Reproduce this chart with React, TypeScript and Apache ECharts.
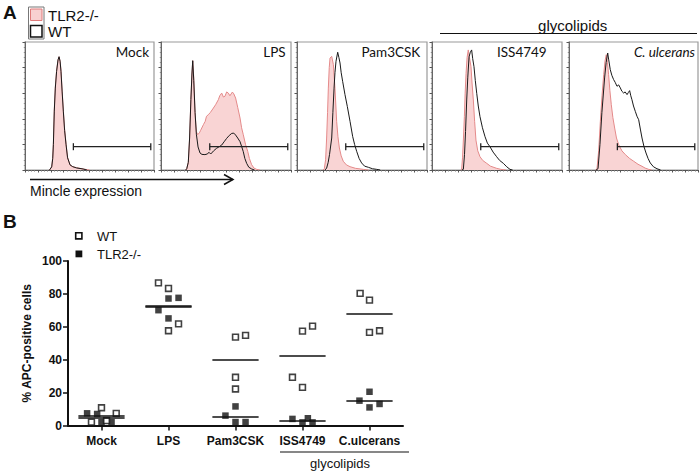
import React, { useEffect, useRef } from "react";
import * as echarts from "echarts";

// ---------- Panel A: flow histograms (x: % of panel width, y: % of panel height) ----------
const panelNames = ["Mock", "LPS", "Pam3CSK", "ISS4749", "C. ulcerans"];

const tlr2Hist: number[][][] = [
  [[19,0],[20.7,2.6],[21.5,10],[22,20.8],[22.7,47],[23.5,65],[24.5,78],[25.6,86],[26.4,88.5],[27.2,85],[27.9,78],[28.8,62],[29.7,47],[30.7,32],[31.8,20.8],[33,10],[34.9,4],[37,2.6],[40,1.8],[45,0.8],[50,0]],
  [[19,0],[19.8,1],[21,6],[22,25],[23,55],[23.8,75],[24.4,85.4],[25.2,72],[26.2,45],[27.2,30],[28.2,27.6],[29.5,29],[30.5,31],[32.6,35.4],[34,38],[35,42],[36.4,43.2],[38,45],[40.3,48.4],[42,51],[44.1,54.9],[45.2,58],[46.7,60.1],[48,57],[49.2,57.6],[50.5,61],[51.8,60.1],[53,58],[54.9,60.9],[56,59.5],[57.4,56.2],[59,49],[60.8,40.6],[62,33],[63.3,27.6],[65,20],[66.7,14.6],[68,9],[69.7,4.2],[71.5,1.5],[73.6,0.5],[76,0]],
  [[20,0],[21,1],[22,8],[22.8,25],[23.5,45],[24.1,64],[24.8,80],[25.4,87.5],[26.7,88.8],[28,82.3],[29.2,64],[30.5,38],[31.5,26],[32.6,17.2],[34,11],[35.6,6.8],[38,4],[40.8,2.6],[45,1.3],[51,0.5],[55,0]],
  [[22,0],[22.8,0.5],[23.5,10],[24.2,25],[24.9,41.7],[25.5,60],[26.2,75.5],[27,88],[27.9,93.8],[28.8,88],[30,80.7],[30.8,68],[31.8,54.7],[32.8,38],[33.8,23.4],[35.2,15],[36.9,10.4],[39,7.5],[42.1,5.2],[45,3],[49.7,1.3],[53,0.5],[57,0]],
  [[20.5,0],[21.7,1],[23,15],[24.3,38],[25.6,58],[26.9,74.5],[27.9,85],[28.9,90.1],[29.8,84],[30.7,74.5],[31.7,62],[32.8,51],[34,41],[35.4,32.8],[36.8,25],[38.5,19.8],[41,15],[43.7,12],[47,9],[50.2,6.8],[53.5,4.5],[56.6,2.9],[59,1.5],[61.8,0.5],[64,0]],
];

const wtHist: number[][][] = [
  [[19,0],[20.7,2.4],[21.5,9],[22,20],[22.7,46],[23.5,64],[24.5,77],[25.6,86],[26.4,88.5],[27.2,85],[27.9,77],[28.8,61],[29.7,46],[30.7,31],[31.8,20],[33,9.5],[34.9,4],[37,2.6],[40,1.6],[45,0.8],[48,0]],
  [[19,0],[19.8,1],[21,6],[22,25],[23,55],[23.8,75],[24.4,85.4],[25.2,70],[26.2,45],[27.2,28],[28.5,18],[30,13.3],[31.5,12.2],[33.8,12],[35.5,12.5],[37,13.8],[38.2,12.5],[39,13.3],[40.5,15],[42.8,17],[44.5,18],[46.7,19.5],[48.5,22],[50.5,24.7],[52.5,27],[54.4,28.6],[56,28.8],[57.4,27.3],[59,25],[60.8,22.1],[62,18.5],[63.3,14.3],[64.5,9],[65.9,5.2],[67.5,2.2],[69.7,0.8],[72,0]],
  [[21.5,0],[22.8,1.5],[24,6],[25,12],[26.7,25],[27.6,45],[28.5,64],[29.2,76],[30,84.9],[31.3,92],[32.2,88],[33.1,83.6],[34,76],[35.1,69.3],[36.9,58.9],[38.7,49.7],[40.8,38],[42.8,26.3],[44.3,20],[45.9,14.6],[47.8,9],[49.7,5.5],[52,3],[54.9,2.1],[58,1],[61.3,0.5],[64,0]],
  [[23,0],[24.1,0.5],[25,12],[25.8,30],[26.7,54.7],[27.5,72],[28.5,88.5],[29.5,92],[30.5,93.8],[31.3,87],[32.3,80.7],[33.3,70],[34.4,59.9],[35.6,50],[36.9,41.7],[38.8,33],[40.8,26],[42.6,21],[44.6,18.2],[47,14],[49.7,10.4],[52,7.5],[54.9,5.2],[57.5,2.5],[60,0.5],[62,0]],
  [[21,0],[22.5,1],[24,20],[25.5,45],[27.6,71.9],[28.8,84],[30,91.4],[30.8,86],[32,78.4],[33.2,74],[34.6,70.6],[35.8,68.5],[37.2,65.4],[38.5,66.5],[39.8,64.1],[41,61.5],[42.4,60.1],[43.5,61],[45,58.9],[46,60.5],[47,62],[47.9,58],[48.8,54.9],[50,50],[51.4,45.8],[52.7,42],[54,39.3],[55.3,32],[56.6,25],[58.2,18],[59.7,13.3],[61.3,9],[63,5.5],[65.5,2.5],[68.2,1],[71,0]],
];

const gateRange = [37.5, 97.5];
const gateLevel = 18.2;

// ---------- Panel B: % APC-positive cells ----------
const categories = ["Mock", "LPS", "Pam3CSK", "ISS4749", "C.ulcerans"];
const wtValues = [
  [10.8, 2, 3, 7.4],
  [86.7, 83.3, 61.8, 57.6],
  [53.7, 54.8, 29.3, 22.2],
  [57.4, 60.4, 29.3, 23.2],
  [80.3, 76.2, 56.6, 57.6],
];
const wtJitter = [
  [0, -0.15, 0.075, 0.22],
  [-0.15, 0, 0.15, 0],
  [0, 0.15, 0, 0],
  [0, 0.15, -0.15, 0],
  [-0.14, 0, 0, 0.15],
];
const tlr2Values = [
  [7.4, 7, 2, 2],
  [77.2, 77.6, 70.1, 65.1],
  [11.6, 6, 2.1, 2.1],
  [4, 1.9, 4.4, 1.9],
  [20.5, 15.1, 13.1, 11],
];
const tlr2Jitter = [
  [-0.215, -0.065, 0, 0.15],
  [0, 0.15, -0.15, 0],
  [0, -0.15, 0, 0.15],
  [-0.15, 0, 0.08, 0.15],
  [0, -0.15, 0.15, 0],
];
const yTicks = [0, 20, 40, 60, 80, 100];

// ---------- layout ----------
const panelLeft = [25, 161, 297, 432, 569];
const panelWidth = [129, 130, 130, 130, 129];
const panelTop = 42;
const panelHeight = 128;
const labelRight = [149, 285.7, 420.3, 546.7, 695];

const SANS = "Liberation Sans, Arial, sans-serif";
const CAL = "Lato, Carlito, sans-serif";

const mean = (a: number[]) => a.reduce((s, v) => s + v, 0) / a.length;
const halfLine = 0.345;

export default function App() {
  const ref = useRef<HTMLDivElement>(null);
  useEffect(() => {
    if (!ref.current) return;
    const chart = echarts.init(ref.current, undefined, { renderer: "svg" });

    const grids: any[] = [];
    const xAxes: any[] = [];
    const yAxes: any[] = [];
    const series: any[] = [];

    panelNames.forEach((_, i) => {
      grids.push({
        left: panelLeft[i], top: panelTop, width: panelWidth[i], height: panelHeight,
        show: true, borderColor: "#9a9a9a", borderWidth: 1.2, backgroundColor: "transparent",
      });
      xAxes.push({
        type: "value", gridIndex: i, min: 0, max: 100, interval: 10,
        axisLine: { show: true, lineStyle: { color: "#555", width: 1 } },
        axisTick: { show: true, length: 2.5, lineStyle: { color: "#555", width: 1 } },
        minorTick: { show: true, splitNumber: 4, length: 1.5, lineStyle: { color: "#777" } },
        axisLabel: { show: false }, splitLine: { show: false },
      });
      yAxes.push({
        type: "value", gridIndex: i, min: 0, max: 100, interval: 20,
        axisLine: { show: true, onZero: false, lineStyle: { color: "#666", width: 1 } },
        axisTick: { show: true, length: 2.5, lineStyle: { color: "#555", width: 1 } },
        minorTick: { show: true, splitNumber: 5, length: 1.2, lineStyle: { color: "#888" } },
        axisLabel: { show: false }, splitLine: { show: false },
      });
      series.push({
        name: "TLR2-/- histogram " + panelNames[i], type: "line", xAxisIndex: i, yAxisIndex: i,
        data: tlr2Hist[i], showSymbol: false, smooth: false, silent: true,
        lineStyle: { color: "#e48a8a", width: 1 },
        areaStyle: { color: "#f9d4d4", opacity: 1 }, z: 2,
      });
      series.push({
        name: "WT histogram " + panelNames[i], type: "line", xAxisIndex: i, yAxisIndex: i,
        data: wtHist[i], showSymbol: false, smooth: false, silent: true,
        lineStyle: { color: "#1a1a1a", width: 1 }, z: 3,
      });
      series.push({
        name: "gate " + panelNames[i], type: "line", xAxisIndex: i, yAxisIndex: i,
        data: [[gateRange[0], gateLevel], [gateRange[1], gateLevel]],
        showSymbol: true, symbol: "rect", symbolSize: [1.3, 7], silent: true,
        itemStyle: { color: "#222" }, lineStyle: { color: "#222", width: 1.3 }, z: 4,
      });
    });

    // Panel B
    const gB = grids.length;
    grids.push({ left: 68, top: 261, width: 335, height: 164.5 });
    xAxes.push({
      type: "category", gridIndex: gB, data: categories,
      axisLine: { show: true, onZero: false, lineStyle: { color: "#111", width: 2 } },
      axisTick: { show: true, alignWithLabel: true, length: 5, lineStyle: { color: "#111", width: 1.5 } },
      axisLabel: { interval: 0, fontFamily: SANS, fontWeight: "bold", fontSize: 12, color: "#111", margin: 9 },
      splitLine: { show: false },
    });
    const xVal = xAxes.length;
    xAxes.push({ type: "value", gridIndex: gB, min: -0.5, max: 4.5, show: false });
    const yB = yAxes.length;
    yAxes.push({
      type: "value", gridIndex: gB, min: yTicks[0], max: yTicks[yTicks.length - 1], interval: 20,
      axisLine: { show: true, onZero: false, lineStyle: { color: "#111", width: 2 } },
      axisTick: { show: true, length: 5, lineStyle: { color: "#111", width: 1.5 } },
      axisLabel: { fontFamily: SANS, fontWeight: "bold", fontSize: 12, color: "#111", margin: 6 },
      splitLine: { show: false },
      name: "% APC-positive cells", nameLocation: "middle", nameGap: 35,
      nameTextStyle: { fontFamily: SANS, fontWeight: "bold", fontSize: 12, color: "#111" },
    });

    const pts = (vals: number[][], jit: number[][]) =>
      vals.flatMap((arr, i) => arr.map((v, k) => [i + jit[i][k], v]));
    const meanLines = (vals: number[][]) =>
      vals.map((arr, i) => [
        { coord: [i - halfLine, mean(arr)] },
        { coord: [i + halfLine, mean(arr)] },
      ]);
    const ml = (vals: number[][]) => ({
      silent: true, symbol: ["none", "none"], label: { show: false },
      lineStyle: { color: "#111", width: 1.5, type: "solid" },
      emphasis: { disabled: true }, data: meanLines(vals),
    });

    series.push({
      name: "TLR2-/-", type: "scatter", xAxisIndex: xVal, yAxisIndex: yB,
      data: pts(tlr2Values, tlr2Jitter), symbol: "rect", symbolSize: 6.5,
      itemStyle: { color: "#111" }, markLine: ml(tlr2Values), z: 3,
    });
    series.push({
      name: "WT", type: "scatter", xAxisIndex: xVal, yAxisIndex: yB,
      data: pts(wtValues, wtJitter), symbol: "rect", symbolSize: 5.8,
      itemStyle: { color: "#fff", borderColor: "#111", borderWidth: 1.6 }, markLine: ml(wtValues), z: 4,
    });

    const graphics: any[] = [
      { type: "text", left: 3, top: 3, style: { text: "A", font: `bold 19px ${SANS}`, fill: "#111" } },
      { type: "text", left: 3, top: 212, style: { text: "B", font: `bold 19px ${SANS}`, fill: "#111" } },
      // Legend A
      { type: "rect", shape: { x: 28.5, y: 7, width: 15.5, height: 32 }, style: { fill: "none", stroke: "#777", lineWidth: 1 } },
      { type: "rect", shape: { x: 30.5, y: 9, width: 11.5, height: 11.5 }, style: { fill: "#f8d0d0", stroke: "#e07a7a", lineWidth: 1 } },
      { type: "rect", shape: { x: 30.5, y: 25.5, width: 11.5, height: 11.5 }, style: { fill: "#fff", stroke: "#111", lineWidth: 1.5 } },
      { type: "text", x: 48, y: 15, style: { text: "TLR2-/-", font: `15px ${SANS}`, fill: "#111", textVerticalAlign: "middle" } },
      { type: "text", x: 48, y: 31.5, style: { text: "WT", font: `15px ${SANS}`, fill: "#111", textVerticalAlign: "middle" } },
      // Legend B
      { type: "rect", shape: { x: 75.7, y: 232.7, width: 6.2, height: 6.2 }, style: { fill: "#fff", stroke: "#111", lineWidth: 1.6 } },
      { type: "rect", shape: { x: 75.5, y: 250.5, width: 6.8, height: 6.8 }, style: { fill: "#111" } },
      { type: "text", x: 97, y: 236, style: { text: "WT", font: `13px ${SANS}`, fill: "#111", textVerticalAlign: "middle" } },
      { type: "text", x: 97, y: 254, style: { text: "TLR2-/-", font: `13px ${SANS}`, fill: "#111", textVerticalAlign: "middle" } },
      // glycolipids header A
      { type: "text", x: 572.7, y: 25, style: { text: "glycolipids", font: `15px ${SANS}`, fill: "#111", textAlign: "center", textVerticalAlign: "middle" } },
      { type: "line", shape: { x1: 440, y1: 33.5, x2: 697, y2: 33.5 }, style: { stroke: "#111", lineWidth: 1.2 } },
      // Mincle arrow
      { type: "line", shape: { x1: 30, y1: 179.5, x2: 233, y2: 179.5 }, style: { stroke: "#111", lineWidth: 1.5 } },
      { type: "polyline", shape: { points: [[224, 174.5], [233, 179.5], [224, 184.5]] }, style: { stroke: "#111", lineWidth: 1.5, fill: "none" } },
      { type: "text", x: 30, y: 191, style: { text: "Mincle expression", font: `14px ${SANS}`, fill: "#111", textVerticalAlign: "middle" } },
      // glycolipids B
      { type: "line", shape: { x1: 280, y1: 452, x2: 409, y2: 452 }, style: { stroke: "#111", lineWidth: 1.2 } },
      { type: "text", x: 340, y: 463, style: { text: "glycolipids", font: `13px ${SANS}`, fill: "#111", textAlign: "center", textVerticalAlign: "middle" } },
    ];
    panelNames.forEach((n, i) => {
      graphics.push({
        type: "text", x: labelRight[i], y: 52,
        style: {
          text: n, font: `${i === 4 ? "italic " : ""}13.5px ${CAL}`, fill: "#111",
          textAlign: "right", textVerticalAlign: "middle",
        },
      });
    });

    chart.setOption({
      animation: false,
      backgroundColor: "#fff",
      grid: grids,
      xAxis: xAxes,
      yAxis: yAxes,
      series,
      graphic: graphics,
    });
    return () => chart.dispose();
  }, []);
  return <div ref={ref} style={{ position: "absolute", left: 0, top: 0, width: 700, height: 471 }} />;
}
